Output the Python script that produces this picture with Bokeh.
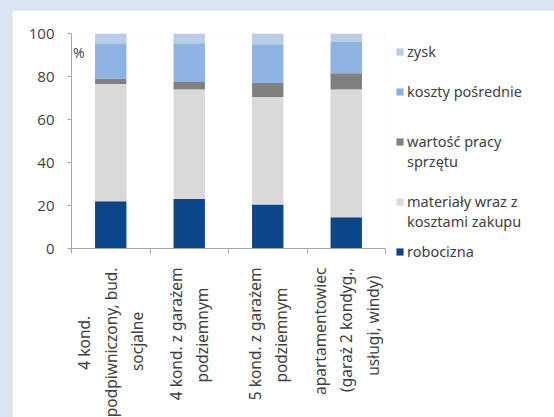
import math
from bokeh.plotting import figure
from bokeh.models import FixedTicker, Legend, LegendItem, Label, Range1d
from bokeh.embed import file_html
from bokeh.resources import INLINE

categories = [
    "4 kond.\npodpiwniczony, bud.\nsocjalne",
    "4 kond. z garażem\npodziemnym",
    "5 kond. z garażem\npodziemnym",
    "apartamentowiec\n(garaż 2 kondyg.,\nusługi, windy)",
]
robocizna = [22.0, 23.0, 20.5, 14.5]
materialy = [54.5, 51.0, 50.0, 59.5]
sprzet = [2.5, 3.5, 6.5, 7.5]
koszty = [16.5, 18.0, 18.0, 14.5]
zysk = [4.5, 4.5, 5.0, 4.0]

series_keys = ["robocizna", "materialy", "sprzet", "koszty", "zysk"]
series_labels = [
    "robocizna",
    "materiały wraz z\nkosztami zakupu",
    "wartość pracy\nsprzętu",
    "koszty pośrednie",
    "zysk",
]
series_colors = ["#0b4788", "#d9d9d9", "#808080", "#8db3e2", "#b9cde5"]
y_ticks = [0, 20, 40, 60, 80, 100]


def _w(s):
    narrow, wide = "ijl.,:;'!|ftr() ", "mwMW"
    return sum(0.5 if c in narrow else 1.45 if c in wide else 1.0 for c in s)


def center_lines(label):
    # rotated labels are end-aligned; pad shorter lines with no-break spaces
    lines = label.split("\n")
    widest = max(_w(s) for s in lines)
    return "\n".join(s + "\u00a0" * round((widest - _w(s)) / 2 / 0.47) for s in lines)


xs = [1, 2, 3, 4]
data = dict(x=xs, robocizna=robocizna, materialy=materialy, sprzet=sprzet,
            koszty=koszty, zysk=zysk)

p = figure(frame_width=314, frame_height=215, x_range=Range1d(0.5, 4.5), y_range=Range1d(0, 100),
           min_border_left=59, min_border_right=169, min_border_top=23, min_border_bottom=169,
           output_backend="svg", toolbar_location=None)
p.outline_line_color = None
p.grid.visible = False
p.border_fill_color = "white"

rs = p.vbar_stack(series_keys, x="x", width=0.4, source=data, color=series_colors,
                  line_color=None)

gray = "#a6a6a6"
txt = "#404040"
ya = p.yaxis[0]
ya.ticker = FixedTicker(ticks=y_ticks)
ya.axis_line_color = gray
ya.major_tick_line_color = gray
ya.major_tick_out = 4
ya.major_tick_in = 0
ya.minor_tick_line_color = None
ya.major_label_text_font = "Open Sans"
ya.major_label_text_font_size = "15px"
ya.major_label_text_color = txt
ya.major_label_standoff = 13

xa = p.xaxis[0]
xa.ticker = FixedTicker(ticks=xs, minor_ticks=[0.5, 1.5, 2.5, 3.5, 4.5])
xa.major_label_overrides = {x: center_lines(c) for x, c in zip(xs, categories)}
xa.axis_line_color = gray
xa.major_tick_line_color = None
xa.major_tick_out = 0
xa.major_tick_in = 0
xa.minor_tick_line_color = gray
xa.minor_tick_out = 5
xa.minor_tick_in = 0
xa.major_label_orientation = math.pi / 2
xa.major_label_text_font = "Noto Sans"
xa.major_label_text_font_size = "15.5px"
xa.major_label_text_color = txt
xa.major_label_standoff = 14

p.add_layout(Label(x=0.52, y=91, text="%", text_font="Open Sans", text_font_size="14px",
                   text_color=txt, text_baseline="middle"))

items = []
for i in range(4, -1, -1):
    lab = series_labels[i]
    if "\n" in lab:
        lab = "\n" + lab  # keep the marker level with the first line
    items.append(LegendItem(label=lab, renderers=[rs[i]]))
legend = Legend(items=items, location=(10, -23), margin=0, padding=0, spacing=0,
                border_line_color=None, background_fill_alpha=0,
                glyph_width=9, glyph_height=9, label_standoff=3,
                label_text_font="Noto Sans", label_text_font_size="14.5px",
                label_text_color=txt, label_height=40)
p.add_layout(legend, "right")

html = file_html(p, INLINE)
css = ("<style>html, body { background: #dce6f2 !important; } "
       "body { padding: 10px 0 0 12px !important; }</style>")
html = html.replace("</head>", css + "</head>", 1)
open("out.html", "w").write(html)
